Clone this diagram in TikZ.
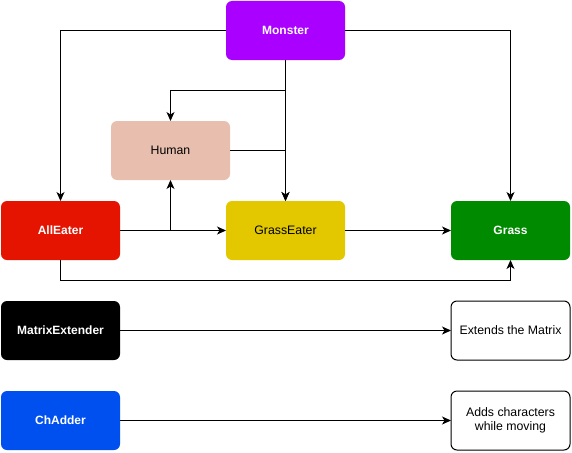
\documentclass[tikz,border=0pt]{standalone}
\usepackage{fontspec}
\setmainfont{Liberation Sans}
\usetikzlibrary{arrows.meta}
\definecolor{cmonster}{HTML}{AA00FF}
\definecolor{chuman}{HTML}{E8BFAE}
\definecolor{calleater}{HTML}{E51400}
\definecolor{cgrasseater}{HTML}{E3C800}
\definecolor{cgrass}{HTML}{008A00}
\definecolor{cchadder}{HTML}{0050EF}
\tikzset{
  cbox/.style={rounded corners=6pt,minimum width=119pt,minimum height=59pt,inner sep=2pt,outer sep=0pt,align=center,font=\fontsize{12.3}{14.5}\selectfont},
  darkbox/.style={cbox,text=white,font=\fontsize{12}{14}\selectfont\bfseries},
  lightbox/.style={cbox,text=black},
  notebox/.style={cbox,draw=black,line width=1pt,fill=white,text=black},
  link/.style={line width=1pt,-{Stealth[length=9pt,width=8pt,inset=2.5pt]}}
}
\begin{document}
\begin{tikzpicture}[x=1pt,y=-1pt]
\pgfmathsetmacro{\kleft}{60.5}
\pgfmathsetmacro{\kright}{510.5}
\pgfmathsetmacro{\kdrop}{30}
\useasboundingbox (0,0) rectangle (572,452);
% class boxes
\foreach \nx/\ny/\nname/\nsty/\ncol/\nlb in {285.5/30.5/mon/darkbox/cmonster/Monster,170.5/150.5/hum/lightbox/chuman/Human,\kleft/230.5/all/darkbox/calleater/AllEater,285.5/230.5/ge/lightbox/cgrasseater/GrassEater,\kright/230.5/grass/darkbox/cgrass/Grass,\kleft/330.5/mx/darkbox/black/MatrixExtender,\kleft/420.5/ch/darkbox/cchadder/ChAdder}{\node[\nsty,fill=\ncol](\nname) at (\nx,\ny){\nlb};}
% notes
\node[notebox](ext) at (\kright,330.5){Extends the Matrix};
\node[notebox](add) at (\kright,420.5){Adds characters\\while moving};
% links
\draw[link](mon.west) -| (all.north);
\draw[link](mon.east) -| (grass.north);
\draw[link](mon.south) -- (ge.north);
\draw[link](mon.south) -- ++(0,\kdrop) -| (hum.north);
\draw[link](hum.east) -| (ge.north);
\draw[link](all.east) -- (ge.west);
\draw[link](all.east) -| (hum.south);
\draw[link](ge.east) -- (grass.west);
\draw[link](all.south) -- ++(0,20) -| (grass.south);
\foreach \src/\dst in {mx/ext,ch/add}{\draw[link](\src.east) -- (\dst.west);}
\end{tikzpicture}
\end{document}
